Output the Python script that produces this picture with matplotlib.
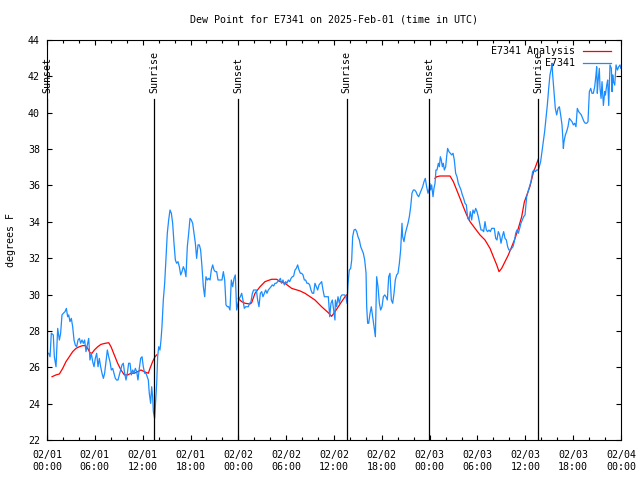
import numpy as np
import matplotlib
matplotlib.use("Agg")
import matplotlib.pyplot as plt

plt.rcParams['font.family'] = ['DejaVu Sans Mono']

title = "Dew Point for E7341 on 2025-Feb-01 (time in UTC)"
ylabel = "degrees F"

# observation times (hours since 02/01 00:00 UTC) and dew point (F)
obs_hours = [
    0.21, 0.38, 0.54, 0.79, 0.92, 1.13, 1.34, 1.55, 1.71, 1.88, 2.05, 2.26, 2.43, 2.59, 2.72, 2.88,
    3.05, 3.22, 3.39, 3.55, 3.72, 3.89, 4.06, 4.22, 4.39, 4.56, 4.72, 4.89, 5.06, 5.23, 5.39, 5.56,
    5.73, 5.90, 6.06, 6.23, 6.40, 6.56, 6.73, 6.90, 7.07, 7.23, 7.40, 7.57, 7.74, 7.90, 8.07, 8.24,
    8.40, 8.57, 8.74, 8.91, 9.07, 9.24, 9.41, 9.57, 9.74, 9.91, 10.08, 10.24, 10.41, 10.58, 10.75,
    10.91, 11.08, 11.25, 11.41, 11.58, 11.75, 11.92, 12.08, 12.25, 12.42,
    12.71, 12.83, 13.00, 13.13, 13.25, 13.34, 13.50, 13.63, 13.76, 13.88, 14.01, 14.17, 14.30, 14.42,
    14.59, 14.76, 14.93, 15.09, 15.26, 15.43, 15.60, 15.76, 15.93, 16.10, 16.26, 16.43, 16.60, 16.77,
    16.93, 17.10, 17.27, 17.43, 17.60, 17.77, 17.94, 18.10, 18.27, 18.44, 18.61, 18.77, 18.94, 19.11,
    19.27, 19.44, 19.61, 19.78, 19.94, 20.11, 20.28, 20.45, 20.61, 20.78, 20.95, 21.11, 21.28, 21.45,
    21.62, 21.78, 21.95, 22.12, 22.29, 22.45, 22.62, 22.79, 22.95, 23.12, 23.29, 23.46, 23.62, 23.79,
    23.96, 24.13,
    24.25, 24.42, 24.58, 24.75, 24.92, 25.09, 25.25, 25.42, 25.59, 25.76, 25.92, 26.09, 26.26, 26.42,
    26.59, 26.76, 26.93, 27.09, 27.26, 27.43, 27.59, 27.76, 27.93, 28.10, 28.26, 28.43, 28.60, 28.77,
    28.93, 29.10, 29.27, 29.43, 29.60, 29.77, 29.94, 30.10, 30.27, 30.44, 30.61, 30.77, 30.94, 31.11,
    31.27, 31.44, 31.61, 31.78, 31.94, 32.11, 32.28, 32.44, 32.61, 32.78, 32.95, 33.11, 33.28, 33.45,
    33.61, 33.78, 33.95, 34.12, 34.28, 34.45, 34.62, 34.79, 34.95, 35.12, 35.29, 35.46, 35.62, 35.79,
    35.96, 36.12,
    36.17, 36.33, 36.50, 36.67, 36.84, 37.00, 37.17, 37.34, 37.50, 37.63, 37.76, 37.92, 38.09, 38.22,
    38.34, 38.51, 38.68, 38.85, 39.01, 39.18, 39.35, 39.51, 39.68, 39.85, 40.02, 40.10, 40.22, 40.35,
    40.52, 40.68, 40.85, 41.02, 41.19, 41.35, 41.52, 41.69, 41.85, 42.02, 42.19, 42.36, 42.52, 42.69,
    42.86, 43.02, 43.19, 43.36, 43.53, 43.69, 43.86, 44.03, 44.20, 44.36, 44.53, 44.61, 44.78, 44.95,
    45.11, 45.28, 45.45, 45.62, 45.78, 45.95, 46.12, 46.28, 46.45, 46.62, 46.79, 46.95, 47.12, 47.29,
    47.45, 47.62, 47.79, 47.96,
    48.00, 48.12, 48.25, 48.42, 48.54, 48.67, 48.79, 48.92, 49.09, 49.21, 49.34, 49.46, 49.59, 49.71,
    49.84, 50.01, 50.13, 50.25, 50.42, 50.59, 50.76, 50.93, 51.09, 51.26, 51.43, 51.59, 51.76, 51.93,
    52.10, 52.26, 52.43, 52.60, 52.77, 52.93, 53.10, 53.27, 53.43, 53.60, 53.77, 53.94, 54.10, 54.27,
    54.44, 54.61, 54.77, 54.94, 55.11, 55.27, 55.44, 55.61, 55.78, 55.94, 56.11, 56.28, 56.44, 56.61,
    56.78, 56.95, 57.11, 57.28, 57.45, 57.62, 57.78, 57.95, 58.12, 58.28, 58.45, 58.62, 58.79, 58.95,
    59.12, 59.29, 59.45, 59.62, 59.79, 59.96, 60.17,
    60.58, 60.71, 60.92, 61.09, 61.25, 61.42, 61.63, 61.75, 61.92, 62.09, 62.26, 62.42, 62.59, 62.76,
    62.93, 63.09, 63.26, 63.35, 63.43, 63.59, 63.76, 63.93, 64.10, 64.27, 64.43, 64.60, 64.68, 64.77,
    64.85, 65.02, 65.18, 65.35, 65.52, 65.69, 65.85, 66.02, 66.19, 66.35, 66.52, 66.69, 66.86, 67.02,
    67.19, 67.36, 67.53, 67.69, 67.86, 68.03, 68.20, 68.36, 68.53, 68.70, 68.86, 68.95, 69.03, 69.12,
    69.28, 69.37, 69.50, 69.62, 69.79, 69.96, 70.04, 70.21, 70.33, 70.46, 70.62, 70.79, 70.88, 70.96,
    71.05, 71.21, 71.38, 71.55, 71.72, 71.88, 71.97,
]
obs_dewpoint = [
    26.77, 26.58, 27.87, 27.78, 26.58, 26.03, 28.14, 27.50, 27.87, 28.88, 28.97, 29.06, 29.24, 28.78, 28.88, 28.51,
    28.69, 28.23, 27.50, 27.22, 27.13, 27.50, 27.59, 27.32, 27.50, 27.32, 27.50, 26.86, 27.22, 27.59, 26.40, 26.77,
    26.31, 26.03, 26.49, 26.77, 26.03, 26.49, 26.03, 25.67, 25.39, 25.67, 26.31, 26.95, 26.58, 26.31, 25.85, 25.94,
    25.67, 25.39, 25.30, 25.30, 25.58, 25.85, 26.13, 26.22, 25.67, 25.30, 25.67, 26.22, 26.22, 25.58, 25.85,
    25.67, 25.94, 25.76, 25.30, 25.94, 26.49, 26.58, 26.03, 25.67, 25.67,
    25.30, 24.57, 24.02, 24.93, 24.38, 23.56, 23.19, 24.20, 25.12, 26.58, 27.13, 26.95, 27.50, 28.23,
    29.70, 30.62, 32.08, 33.37, 34.10, 34.65, 34.47, 33.92, 32.82, 31.90, 31.72, 31.81, 31.53, 31.08,
    31.26, 31.53, 31.35, 30.98, 32.63, 33.37, 34.19, 34.10, 33.92, 33.37, 32.82, 31.99, 32.73, 32.73,
    32.45, 31.53, 30.43, 29.88, 30.98, 30.80, 30.89, 30.80, 31.35, 31.63, 31.35, 31.26, 31.26, 30.80,
    30.80, 30.80, 30.80, 31.26, 30.80, 29.43, 29.33, 29.33, 29.15, 30.80, 30.43, 30.89, 31.08, 29.15,
    29.52, 29.79,
    29.88, 30.07, 29.70, 29.24, 29.33, 29.33, 29.33, 29.52, 29.61, 30.07, 30.25, 30.25, 30.25, 29.70,
    29.33, 30.07, 30.16, 29.88, 30.07, 30.25, 30.07, 30.25, 30.34, 30.43, 30.53, 30.47, 30.62, 30.62,
    30.71, 30.76, 30.89, 30.62, 30.80, 30.53, 30.71, 30.62, 30.80, 30.71, 30.89, 30.98, 31.02, 31.35,
    31.44, 31.63, 31.35, 31.17, 31.17, 31.08, 30.80, 30.80, 30.62, 30.62, 30.53, 30.25, 30.07, 30.07,
    30.62, 30.43, 30.25, 30.53, 30.62, 30.71, 30.25, 29.88, 29.88, 29.88, 29.88, 28.78, 29.52, 29.70,
    29.15, 28.60,
    29.70, 29.33, 29.88, 29.52, 29.88, 29.98, 29.98, 29.98, 29.88, 29.52, 30.62, 31.35, 31.44, 31.90,
    33.18, 33.55, 33.59, 33.46, 33.18, 33.00, 32.63, 32.45, 32.27, 31.90, 31.17, 29.33, 28.42, 28.42,
    28.97, 29.33, 28.78, 28.23, 27.68, 30.98, 30.43, 29.52, 29.15, 29.33, 29.88, 29.98, 29.88, 29.70,
    30.98, 31.17, 29.70, 29.52, 30.07, 30.80, 31.08, 31.17, 31.72, 32.45, 33.92, 33.18, 32.91, 33.37,
    33.64, 33.92, 34.28, 34.83, 35.57, 35.75, 35.75, 35.66, 35.48, 35.38, 35.57, 35.75, 35.93, 36.21,
    36.39, 35.93, 35.57, 35.84,
    36.12, 35.75, 36.03, 35.38, 35.84, 36.12, 36.85, 36.85, 37.22, 37.03, 37.58, 37.40, 37.03, 37.22,
    36.85, 37.03, 37.58, 38.04, 37.86, 37.77, 37.68, 37.77, 37.40, 36.67, 36.48, 36.12, 35.93, 35.75,
    35.48, 35.29, 35.02, 34.93, 34.19, 34.10, 34.56, 34.10, 34.65, 34.47, 34.74, 34.56, 34.28, 33.92,
    33.55, 33.55, 33.46, 34.01, 33.55, 33.46, 33.55, 33.46, 33.64, 33.64, 33.64, 33.09, 33.00, 33.46,
    33.28, 32.82, 33.18, 33.46, 33.09, 33.00, 32.63, 32.45, 32.45, 32.54, 32.63, 32.91, 33.37, 33.55,
    33.37, 33.64, 33.92, 34.10, 34.28, 34.38, 35.38,
    36.03, 36.21, 36.76, 36.85, 36.76, 36.85, 36.85, 37.03, 37.31, 37.86, 38.41, 38.96, 39.69, 40.43,
    41.34, 42.08, 42.44, 42.72, 42.08, 41.16, 40.24, 39.88, 40.24, 40.33, 39.88, 39.33, 38.78, 38.04,
    38.41, 38.78, 38.96, 39.23, 39.69, 39.60, 39.51, 39.33, 39.42, 39.23, 40.24, 40.06, 39.97, 39.88,
    39.69, 39.51, 39.42, 39.42, 39.51, 41.16, 41.34, 41.07, 41.07, 41.43, 42.08, 42.53, 41.07, 41.71,
    42.44, 41.34, 40.79, 41.71, 40.40, 41.16, 40.97, 41.52, 41.80, 40.40, 42.63, 42.44, 41.16, 42.08,
    41.71, 41.52, 42.63, 42.35, 42.53, 42.63, 42.44,
]

# analysis (NaN separates nightly runs)
ana_hours = [
    0.63, 1.13, 1.55, 1.97, 2.38, 2.80, 3.22, 3.64, 4.06, 4.47, 4.81, 5.10, 5.39, 5.64, 5.94, 6.36,
    6.77, 7.32, 7.74, 8.03, 8.45, 8.86, 9.28, 9.70, 10.12, 10.54, 10.95, 11.37, 11.79, 12.21, 12.71,
    12.92, 13.25, 13.55, 13.76, np.nan,
    24.00, 24.42, 24.83, 25.46, 25.67, 26.09, 26.72, 27.34, 28.18, 28.81, 29.23, 29.85, 30.69, 31.73,
    32.36, 33.61, 34.45, 35.29, 35.70, 36.13, 36.54, 36.96, 37.38, 37.59, np.nan,
    48.67, 48.88, 49.29, 49.92, 50.55, 50.97, 51.39, 51.81, 52.22, 52.64, 53.06, 53.69, 54.31, 54.94,
    55.57, 55.99, 56.41, 56.70, 57.03, 57.45, 57.87, 58.29, 58.71, 59.12, 59.54, 59.88, 60.17, 60.58,
    61.00, 61.42, 61.63,
]
ana_dewpoint = [
    25.48, 25.58, 25.63, 25.94, 26.31, 26.58, 26.86, 27.04, 27.13, 27.19, 27.19, 27.04, 26.80, 26.77, 26.95, 27.13,
    27.26, 27.32, 27.35, 27.13, 26.67, 26.22, 25.85, 25.58, 25.58, 25.67, 25.67, 25.76, 25.85, 25.76, 25.67,
    25.94, 26.31, 26.58, 26.68, np.nan,
    29.79, 29.61, 29.52, 29.48, 29.55, 30.07, 30.43, 30.71, 30.84, 30.84, 30.71, 30.62, 30.34, 30.20,
    30.07, 29.70, 29.33, 29.00, 28.80, 29.06, 29.33, 29.61, 29.88, 29.98, np.nan,
    36.39, 36.48, 36.52, 36.52, 36.52, 36.21, 35.75, 35.29, 34.83, 34.38, 34.01, 33.64, 33.28, 33.00,
    32.54, 32.08, 31.63, 31.26, 31.44, 31.81, 32.18, 32.63, 33.09, 33.64, 34.28, 35.10, 35.45, 35.95,
    36.70, 37.20, 37.45,
]

sun_hours = [0.0, 13.48, 23.96, 37.57, 47.92, 61.59]
sun_labels = ["Sunset", "Sunrise", "Sunset", "Sunrise", "Sunset", "Sunrise"]

xtick_labels = ["02/01\n00:00", "02/01\n06:00", "02/01\n12:00", "02/01\n18:00",
                "02/02\n00:00", "02/02\n06:00", "02/02\n12:00", "02/02\n18:00",
                "02/03\n00:00", "02/03\n06:00", "02/03\n12:00", "02/03\n18:00",
                "02/04\n00:00"]
yticks = [22, 24, 26, 28, 30, 32, 34, 36, 38, 40, 42, 44]

FS = 7.2
fig = plt.figure(figsize=(6.4, 4.8), dpi=100)
ax = fig.add_axes([47/640, 40/480, 574/640, 400/480])

ax.plot(ana_hours, ana_dewpoint, color='#ff0000', lw=0.9, label='E7341 Analysis')
ax.plot(obs_hours, obs_dewpoint, color='#1a8cff', lw=0.9, label='E7341')

for t, lab in zip(sun_hours, sun_labels):
    ax.axvline(t, ymin=0, ymax=(40.75 - 22) / 22, color='black', lw=0.9)
    ax.text(t, 41.1, lab, rotation=90, ha='center', va='bottom', fontsize=FS, clip_on=False)

ax.set_xlim(0, 72)
ax.set_ylim(22, 44)
ax.set_xticks(np.arange(0, 73, 6))
ax.set_xticklabels(xtick_labels, fontsize=FS, linespacing=1.25)
ax.set_xticks(np.arange(0, 73, 2), minor=True)
ax.set_yticks(yticks)
ax.set_yticklabels([str(v) for v in yticks], fontsize=FS)
ax.tick_params(which='major', direction='in', length=3.5, width=0.8, top=True, right=True, pad=5)
ax.tick_params(axis='x', which='major', pad=7.5)
ax.tick_params(which='minor', direction='in', length=2, width=0.8, top=True, right=False)
for s in ax.spines.values():
    s.set_linewidth(0.8)

ax.set_title(title, fontsize=FS, pad=12.5)
ax.set_ylabel(ylabel, fontsize=FS, labelpad=9)

leg = ax.legend(loc='upper right', bbox_to_anchor=(611/640, 1 - 46/480), bbox_transform=fig.transFigure,
                frameon=False, markerfirst=False, fontsize=FS, handlelength=2.8, handletextpad=0.8,
                labelspacing=0.25, borderpad=0, borderaxespad=0)

fig.savefig('out.png', dpi=100)
